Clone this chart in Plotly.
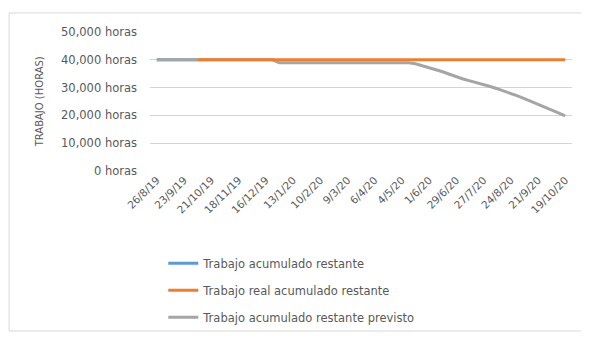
import plotly.graph_objects as go

weeks = list(range(61))
tick_positions = list(range(0, 61, 4))
tick_labels = ["26/8/19", "23/9/19", "21/10/19", "18/11/19", "16/12/19", "13/1/20",
               "10/2/20", "9/3/20", "6/4/20", "4/5/20", "1/6/20", "29/6/20",
               "27/7/20", "24/8/20", "21/9/20", "19/10/20"]

# Trabajo acumulado restante (not visible in the reference, hidden beneath)
blue_vals = [40000] * 7 + [None] * 54

# Trabajo real acumulado restante
orange_vals = [None] * 6 + [40000] * 55

# Trabajo acumulado restante previsto
gray_vals = ([40000] * 18 + [38900] * 20 +
             [38600, 37900, 37200, 36500, 35700, 34800, 33900, 33100, 32400, 31800,
              31100, 30400, 29600, 28800, 28000, 27000, 26000, 25000, 24100, 23100,
              22100, 20900, 19800])

y_ticks = [0, 10000, 20000, 30000, 40000, 50000]
y_labels = ["0 horas", "10,000 horas", "20,000 horas", "30,000 horas", "40,000 horas", "50,000 horas"]
y_title = "TRABAJO (HORAS)"

font_fam = "DejaVu Sans, Liberation Sans, sans-serif"
txt_col = "#595959"

fig = go.Figure()
fig.add_trace(go.Scatter(x=weeks, y=blue_vals, mode="lines", name="Trabajo acumulado restante",
                         line=dict(color="#5B9BD5", width=3), legendgroup="a", legendrank=1))
fig.add_trace(go.Scatter(x=weeks, y=gray_vals, mode="lines", name="Trabajo acumulado restante previsto",
                         line=dict(color="#A5A5A5", width=3), legendgroup="c", legendrank=3))
fig.add_trace(go.Scatter(x=weeks, y=orange_vals, mode="lines", name="Trabajo real acumulado restante",
                         line=dict(color="#ED7D31", width=3), legendgroup="b", legendrank=2))

# the page body keeps its default 8px margin, so the figure is sized to fit inside the window
W, H = 573, 324
fig.update_layout(
    width=W, height=H,
    margin=dict(l=142, r=9, t=24, b=161, autoexpand=False),
    paper_bgcolor="white", plot_bgcolor="white",
    font=dict(family=font_fam, size=10, color=txt_col),
    showlegend=True,
    legend=dict(xref="container", yref="container", x=0.271, y=0.257,
                xanchor="left", yanchor="top",
                orientation="v", tracegroupgap=8,
                font=dict(family=font_fam, size=11.5, color=txt_col),
                bgcolor="rgba(0,0,0,0)"),
    xaxis=dict(range=[-1, 61], tickmode="array", tickvals=tick_positions, ticktext=tick_labels,
               tickangle=-45, showgrid=False, zeroline=False, showline=False,
               ticks="", tickfont=dict(size=10.5, color=txt_col)),
    yaxis=dict(range=[0, 50000], tickmode="array", tickvals=y_ticks, ticktext=y_labels,
               showgrid=True, gridcolor="#D4D4D4", gridwidth=1, zeroline=False,
               showline=False, ticks="", ticklabelstandoff=12,
               tickfont=dict(size=11.5, color=txt_col)),
    annotations=[dict(text=y_title, xref="paper", yref="paper", x=-0.261, y=0.5,
                      xanchor="center", yanchor="middle", textangle=-90, showarrow=False,
                      font=dict(family=font_fam, size=10, color=txt_col))],
    shapes=[dict(type="rect", xref="paper", yref="paper",
                 x0=-0.334, x1=1.2, y0=-1.151, y1=1.137,
                 line=dict(color="#D9D9D9", width=1), fillcolor="rgba(0,0,0,0)", layer="below")],
)

fig.write_html("out.html")
